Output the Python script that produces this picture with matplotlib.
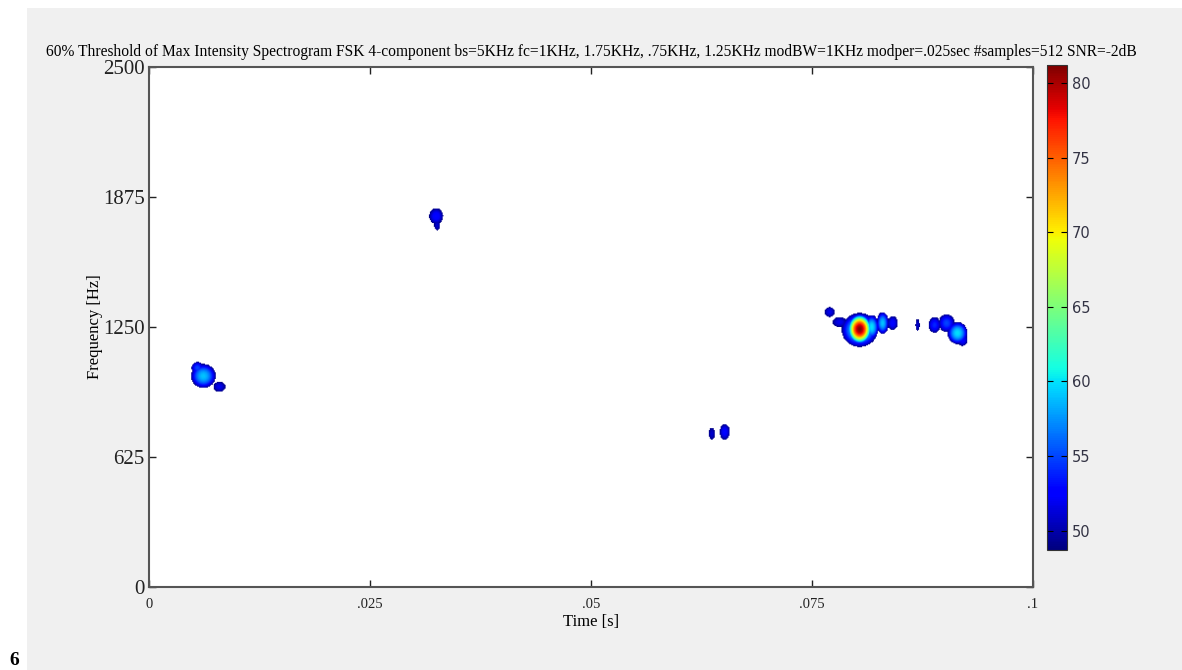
import numpy as np
import matplotlib.pyplot as plt
from matplotlib.patches import Rectangle

# spectral blobs
# centre time [s], centre freq [Hz], half-width [s], half-height [Hz], peak level [dB]
blob_t = [0.00611, 0.00792, 0.00543, 0.03247, 0.03258, 0.06369, 0.06515,
          0.07703, 0.07816, 0.08043, 0.08043, 0.08179, 0.08303, 0.08416,
          0.08699, 0.08891, 0.09027, 0.09151, 0.09208]
blob_f = [1014, 962, 1053, 1784, 1740, 736, 745,
          1322, 1274, 1236, 1240, 1250, 1269, 1269,
          1260, 1260, 1269, 1221, 1188]
blob_dt = [0.00140, 0.00068, 0.00068, 0.00079, 0.00034, 0.00034, 0.00057,
           0.00057, 0.00079, 0.00204, 0.00136, 0.00079, 0.00068, 0.00057,
           0.00023, 0.00068, 0.00090, 0.00113, 0.00057]
blob_df = [58, 24, 29, 38, 24, 29, 38,
           24, 24, 82, 72, 58, 53, 34,
           29, 38, 43, 53, 29]
blob_peak = [59, 52, 55, 53, 51, 51, 53,
             52, 52, 61, 81.2, 60, 59, 53,
             51, 54, 55, 60, 53]

threshold = 48.7   # 60% of max intensity
cmax = 81.2

xticks = [0, 0.025, 0.05, 0.075, 0.1]
xlabels = ['0', '.025', '.05', '.075', '.1']
yticks = [0, 625, 1250, 1875, 2500]
cticks = [50, 55, 60, 65, 70, 75, 80]

# build the thresholded spectrogram grid
t = np.linspace(0, 0.1, 900)
f = np.linspace(0, 2500, 540)
T, F = np.meshgrid(t, f)
spec = np.full(T.shape, threshold - 10.0)
for bt, bf, bdt, bdf, pk in zip(blob_t, blob_f, blob_dt, blob_df, blob_peak):
    r2 = ((T - bt) / bdt) ** 2 + ((F - bf) / bdf) ** 2
    spec = np.maximum(spec, pk - (pk - threshold) * r2)
spec = np.ma.masked_less(spec, threshold)

cmap = plt.get_cmap('jet').copy()
cmap.set_bad('white')

fig = plt.figure(figsize=(11.82, 6.70), dpi=100, facecolor='white')
fig.patches.append(Rectangle((27 / 1182, 0), 1, 1 - 8 / 670, transform=fig.transFigure,
                             facecolor='#f0f0f0', edgecolor='none', zorder=-1))

ax = fig.add_axes([149 / 1182, 1 - 587 / 670, 884 / 1182, 520 / 670])
ax.set_facecolor('white')
im = ax.imshow(spec, origin='lower', extent=[0, 0.1, 0, 2500], aspect='auto',
               cmap=cmap, vmin=threshold, vmax=cmax, interpolation='bilinear')
ax.set_xlim(0, 0.1)
ax.set_ylim(0, 2500)
ax.set_xticks(xticks)
ax.set_xticklabels(xlabels, fontsize=10.5, family='Liberation Serif')
ax.set_yticks(yticks)
ax.set_yticklabels([str(v) for v in yticks], fontsize=15, family='Liberation Serif')
ax.tick_params(direction='in', length=5, width=1, top=True, right=True, colors='#222222')
ax.tick_params(axis='x', pad=8)
ax.tick_params(axis='y', pad=3)
for s in ax.spines.values():
    s.set_color('#555555')
    s.set_linewidth(1.5)
ax.set_xlabel('Time [s]', fontsize=12, family='Liberation Serif', labelpad=2)
ax.set_ylabel('Frequency [Hz]', fontsize=12, family='Liberation Serif', labelpad=0)
ax.set_title('60% Threshold of Max Intensity Spectrogram FSK 4-component bs=5KHz fc=1KHz, '
             '1.75KHz, .75KHz, 1.25KHz modBW=1KHz modper=.025sec #samples=512 SNR=-2dB',
             fontsize=11.2, family='Liberation Serif', pad=8)

cax = fig.add_axes([1047 / 1182, 1 - 550 / 670, 20 / 1182, 485 / 670])
cb = fig.colorbar(im, cax=cax, ticks=cticks)
cb.outline.set_edgecolor('#333333')
cax.tick_params(direction='in', length=4, left=True, right=True, labelsize=10.5,
                labelcolor='#333344')

fig.text(0.008, 0.008, '6', fontsize=14, fontweight='bold', family='Liberation Serif')

fig.savefig('out.png', dpi=100, facecolor=fig.get_facecolor())
